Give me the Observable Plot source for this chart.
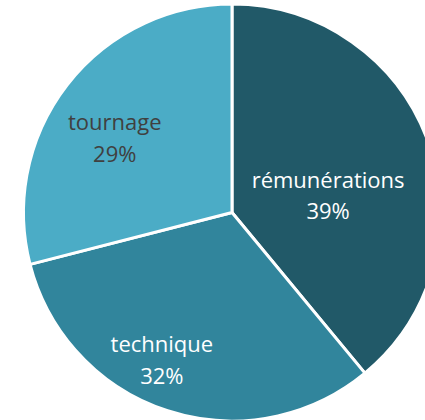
<!DOCTYPE html>
<html><head><meta charset="utf-8">
<script src="https://cdn.jsdelivr.net/npm/d3@7"></script>
<script src="https://cdn.jsdelivr.net/npm/@observablehq/plot@0.6"></script>
<style>body{margin:0;background:#fff} #chart{width:425px;height:420px;overflow:hidden}</style>
</head><body><div id="chart"></div>
<script>
// ---- data ----
const categories = ["rémunérations", "technique", "tournage"];
const shares = [39, 32, 29];
const percentLabels = ["39%", "32%", "29%"];

// ---- styles / layout (kept apart from data) ----
const sliceColors = ["#215968", "#31859c", "#4bacc6"];
const labelColors = ["#ffffff", "#ffffff", "#404040"];
// label placement: [angle in degrees clockwise from 12 o'clock, fraction of radius]
const labelPlacement = [[80.4, 0.465], [205.5, 0.787], [302, 0.666]];
const cx = 232, cy = 212.5, R = 208.5;

const rows = categories.map((c, i) => ({
  category: c,
  share: shares[i],
  label: c + "\n" + percentLabels[i],
  color: sliceColors[i],
  labelColor: labelColors[i],
  lx: labelPlacement[i][1] * Math.sin(labelPlacement[i][0] * Math.PI / 180),
  ly: labelPlacement[i][1] * Math.cos(labelPlacement[i][0] * Math.PI / 180)
}));

const arcs = d3.pie().sort(null).value(d => d.share)(rows);

function slices(index, scales) {
  const x0 = scales.x(0), y0 = scales.y(0), r = scales.x(1) - scales.x(0);
  const arc = d3.arc().innerRadius(0).outerRadius(r);
  const g = d3.create("svg:g").attr("transform", `translate(${x0},${y0})`);
  g.selectAll("path").data(arcs).join("path")
    .attr("d", arc)
    .attr("fill", d => d.data.color)
    .attr("stroke", "#ffffff")
    .attr("stroke-width", 3)
    .attr("stroke-linejoin", "round");
  return g.node();
}

const textOpts = {
  x: "lx", y: "ly", text: "label", dy: -3.5,
  fontSize: 22, fontFamily: "'Open Sans', sans-serif",
  lineHeight: 1.45, textAnchor: "middle"
};

const chart = Plot.plot({
  width: 425,
  height: 420,
  margin: 0,
  style: {background: "#ffffff", overflow: "hidden"},
  x: {domain: [-1, 1], range: [cx - R, cx + R], axis: null},
  y: {domain: [-1, 1], range: [cy + R, cy - R], axis: null},
  marks: [
    slices,
    Plot.text(rows.filter(d => d.labelColor === "#ffffff"), {...textOpts, fill: "#ffffff"}),
    Plot.text(rows.filter(d => d.labelColor !== "#ffffff"), {...textOpts, fill: "#404040"})
  ]
});
document.getElementById("chart").appendChild(chart);
</script>
</body></html>
